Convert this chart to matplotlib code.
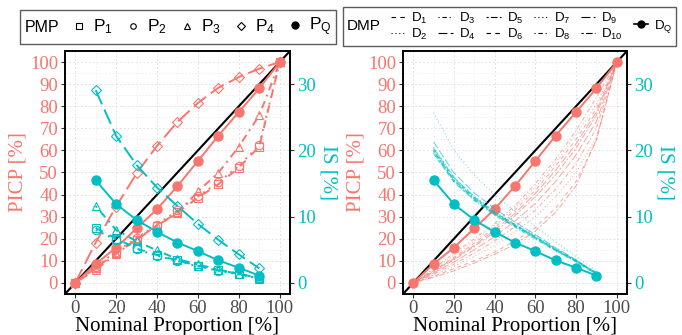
import matplotlib
matplotlib.use("Agg")
import matplotlib.pyplot as plt
from matplotlib.lines import Line2D
from matplotlib.ticker import MultipleLocator

plt.rcParams['mathtext.fontset'] = 'custom'
plt.rcParams['mathtext.rm'] = 'Liberation Sans'
plt.rcParams['mathtext.it'] = 'Liberation Sans'

RED = "#F8766D"
TEAL = "#00BFC4"

# ---------------- data ----------------
x_picp = [0, 10, 20, 30, 40, 50, 60, 70, 80, 90, 100]
x_is = [10, 20, 30, 40, 50, 60, 70, 80, 90]

pq_picp = [0, 8.6, 16.0, 24.7, 33.4, 43.9, 55.2, 66.7, 77.4, 88.1, 100]
pq_is = [15.5, 11.9, 9.5, 7.7, 6.1, 4.8, 3.4, 2.3, 1.1]

p1_picp = [0, 6.8, 13.5, 19.5, 25.9, 31.9, 38.6, 44.7, 52.2, 61.7, 100]
p2_picp = [0, 7.3, 14.2, 20.3, 26.4, 32.8, 39.2, 45.5, 53.0, 62.5, 100]
p3_picp = [0, 6.0, 13.1, 19.8, 26.0, 31.6, 41.5, 49.9, 61.7, 75.9, 100]
p4_picp = [0, 18.3, 34.6, 49.6, 62.1, 72.9, 81.5, 88.4, 93.2, 97.0, 100]

p1_is = [8.3, 6.7, 5.2, 4.2, 3.4, 2.6, 1.9, 1.4, 0.7]
p2_is = [8.0, 6.5, 5.1, 4.1, 3.3, 2.5, 1.8, 1.3, 0.7]
p3_is = [11.6, 8.0, 6.3, 4.9, 3.6, 2.8, 2.0, 1.4, 0.6]
p4_is = [29.1, 22.2, 17.8, 14.4, 11.6, 8.9, 6.5, 4.3, 2.2]

d_picp = {
    "D1": [0, 5.5, 11.5, 18, 25, 33, 42, 53, 65, 79, 100],
    "D2": [0, 3.5, 7.5, 12, 17, 23, 30, 39, 50, 66, 100],
    "D3": [0, 6.5, 13.5, 20, 27, 35, 45, 56, 69, 84, 100],
    "D4": [0, 4.5, 9.5, 15, 21, 28, 36, 46, 58, 73, 100],
    "D5": [0, 5, 10.5, 16.5, 23, 30.5, 39, 49, 61, 76, 100],
    "D6": [0, 3, 6.5, 10, 14, 19, 25, 34, 46, 64.5, 100],
    "D7": [0, 6, 12.5, 19, 26, 34, 43.5, 54.5, 67, 81, 100],
    "D8": [0, 4, 8.5, 13.5, 19, 25.5, 33, 42.5, 54, 70, 100],
    "D9": [0, 5.5, 11, 17, 24, 31.5, 40.5, 51, 63, 77.5, 100],
    "D10": [0, 2.5, 5.5, 9, 13, 17.5, 23.5, 32, 44, 65, 100],
}
d_is = {
    "D1": [20.2, 15.8, 12.9, 10.7, 8.8, 7.0, 5.1, 3.4, 1.5],
    "D2": [25.7, 20.0, 16.3, 13.3, 10.8, 8.5, 6.2, 4.0, 1.8],
    "D3": [19.8, 15.4, 12.6, 10.4, 8.6, 6.8, 5.0, 3.3, 1.4],
    "D4": [21.3, 16.6, 13.6, 11.2, 9.2, 7.3, 5.3, 3.5, 1.5],
    "D5": [20.0, 15.6, 12.8, 10.5, 8.7, 6.9, 5.0, 3.3, 1.4],
    "D6": [19.5, 15.2, 12.5, 10.3, 8.5, 6.7, 4.9, 3.2, 1.3],
    "D7": [20.5, 16.0, 13.1, 10.8, 8.9, 7.1, 5.2, 3.4, 1.5],
    "D8": [19.6, 15.3, 12.4, 10.2, 8.4, 6.6, 4.8, 3.2, 1.3],
    "D9": [20.3, 15.9, 13.0, 10.6, 8.8, 7.0, 5.1, 3.4, 1.4],
    "D10": [19.9, 15.5, 12.7, 10.4, 8.6, 6.8, 4.9, 3.3, 1.4],
}

x_ticks = [0, 20, 40, 60, 80, 100]
picp_ticks = [0, 10, 20, 30, 40, 50, 60, 70, 80, 90, 100]
is_ticks = [0, 10, 20, 30]

# ggplot-like linetypes
LT = {
    "dashed": (0, (4, 4)),
    "dotted": (0, (1, 2.5)),
    "dotdash": (0, (1, 2.5, 4, 2.5)),
    "longdash": (0, (8, 3)),
    "twodash": (0, (2, 2, 6, 2)),
}
d_styles = ["dashed", "dotted", "dotdash", "longdash", "twodash"] * 2

SERIF = "Liberation Serif"
SANS = "Liberation Sans"

fig = plt.figure(figsize=(6.82, 3.35), dpi=100)
axL = fig.add_axes([65 / 682, 1 - 294 / 335, 225 / 682, 243 / 335])
axR = fig.add_axes([403 / 682, 1 - 294 / 335, 224 / 682, 243 / 335])


def style_axes(ax):
    ax.set_xlim(-5, 105)
    ax.set_ylim(-5, 105)
    ax.xaxis.set_major_locator(MultipleLocator(20))
    ax.xaxis.set_minor_locator(MultipleLocator(10))
    ax.yaxis.set_major_locator(MultipleLocator(10))
    ax.yaxis.set_minor_locator(MultipleLocator(5))
    ax.grid(True, which="major", color="#E3E3E3", lw=0.7, ls=(0, (2, 2)))
    ax.grid(True, which="minor", color="#EFEFEF", lw=0.6, ls=(0, (2, 2)))
    ax.set_axisbelow(True)
    ax.set_xticks(x_ticks)
    ax.set_yticks(picp_ticks)
    for s in ax.spines.values():
        s.set_color("black")
        s.set_linewidth(1.2)
    ax.tick_params(axis="x", which="major", colors="#333333", labelcolor="#4D4D4D",
                   labelsize=13.5, length=3, width=0.8, pad=1)
    ax.tick_params(axis="y", which="major", colors="#333333", labelcolor=RED,
                   labelsize=13.5, length=3, width=0.8, pad=2)
    ax.tick_params(which="minor", length=0)
    for lab in ax.get_xticklabels() + ax.get_yticklabels():
        lab.set_fontfamily(SERIF)
    ax.set_xlabel("Nominal Proportion [%]", fontsize=15, family=SERIF, labelpad=0)
    ax.set_ylabel("PICP [%]", fontsize=15, family=SERIF, color=RED, labelpad=2)
    ax.axline((0, 0), (1, 1), color="black", lw=1.5, zorder=1.5)
    ax2 = ax.twinx()
    ax2.set_ylim(-5 / 3, 105 / 3)
    ax2.set_yticks(is_ticks)
    ax2.tick_params(axis="y", colors="#333333", labelcolor=TEAL, labelsize=13.5,
                    length=3, width=0.8, pad=2)
    for lab in ax2.get_yticklabels():
        lab.set_fontfamily(SERIF)
    ax2.set_ylabel("IS [%]", fontsize=15, family=SERIF, color=TEAL, rotation=270,
                   labelpad=16)
    for s in ax2.spines.values():
        s.set_color("black")
        s.set_linewidth(1.2)
    return ax2


axL2 = style_axes(axL)
axR2 = style_axes(axR)

lw = 1.4
# ---- left panel ----
pmp = [
    (p1_picp, p1_is, "s", LT["dashed"]),
    (p2_picp, p2_is, "o", LT["dotted"]),
    (p3_picp, p3_is, "^", LT["dotdash"]),
    (p4_picp, p4_is, "D", LT["longdash"]),
]
for pv, iv, mk, ls in pmp:
    ms = 6 if mk != "D" else 5.5
    axL.plot(x_picp, pv, color=RED, ls=ls, lw=lw, marker=mk, ms=ms,
             mfc="none", mec=RED, mew=0.8, zorder=3)
    axL2.plot(x_is, iv, color=TEAL, ls=ls, lw=lw, marker=mk, ms=ms,
              mfc="none", mec=TEAL, mew=0.8, zorder=3)
axL.plot(x_picp, pq_picp, color=RED, lw=lw, marker="o", ms=6.5, zorder=4)
axL2.plot(x_is, pq_is, color=TEAL, lw=lw, marker="o", ms=6.5, zorder=4)

# ---- right panel ----
for name, sty in zip(d_picp.keys(), d_styles):
    axR.plot(x_picp, d_picp[name], color=RED, ls=LT[sty], lw=0.7, alpha=0.65, zorder=2)
    axR2.plot(x_is, d_is[name], color=TEAL, ls=LT[sty], lw=0.7, alpha=0.65, zorder=2)
axR.plot(x_picp, pq_picp, color=RED, lw=lw, marker="o", ms=6.5, zorder=4)
axR2.plot(x_is, pq_is, color=TEAL, lw=lw, marker="o", ms=6.5, zorder=4)


# ---- legends ----
def title_left(leg):
    c = leg.get_children()[0]
    title, hpack = c.get_children()[0], c.get_children()[1]
    c._children = [hpack]
    hpack._children = [title] + hpack.get_children()
    hpack.align = "center"


hL = [Line2D([], [], color="black", ls="none", marker=m, ms=4,
             mfc="none", mec="black", mew=0.8) for m in ["s", "o", "^", "D"]]
hL.append(Line2D([], [], color="black", ls="none", marker="o", ms=5))
labL = [r"$\mathregular{P_1}$", r"$\mathregular{P_2}$", r"$\mathregular{P_3}$",
        r"$\mathregular{P_4}$", r"$\mathregular{P_Q}$"]
legL = fig.legend(hL, labL, loc="center", bbox_to_anchor=(178 / 682, 1 - 27 / 335),
                  ncol=5, title="PMP", frameon=True, fancybox=False,
                  prop={"family": SANS, "size": 12.5}, title_fontproperties={"family": SANS, "size": 11.5},
                  handlelength=0.7, handletextpad=0.45, columnspacing=0.8,
                  borderpad=0.3, borderaxespad=0)
legL.get_frame().set_edgecolor("#333333")
legL.get_frame().set_linewidth(1.0)
title_left(legL)

hR = [Line2D([], [], color="black", ls=LT[s], lw=0.8) for s in d_styles]
hR.append(Line2D([], [], color="black", ls="-", lw=1.2, marker="o", ms=5))
labR = [r"$\mathregular{D_{%d}}$" % i for i in range(1, 11)] + [r"$\mathregular{D_Q}$"]
legR = fig.legend(hR, labR, loc="center", bbox_to_anchor=(509.5 / 682, 1 - 26.5 / 335),
                  ncol=6, title="DMP", frameon=True, fancybox=False,
                  prop={"family": SANS, "size": 9.5}, title_fontproperties={"family": SANS, "size": 11},
                  handlelength=1.1, handletextpad=0.45, columnspacing=0.8,
                  labelspacing=0.05, borderpad=0.3, borderaxespad=0)
legR.get_frame().set_edgecolor("#333333")
legR.get_frame().set_linewidth(1.0)
title_left(legR)

fig.savefig("out.png", dpi=100)
